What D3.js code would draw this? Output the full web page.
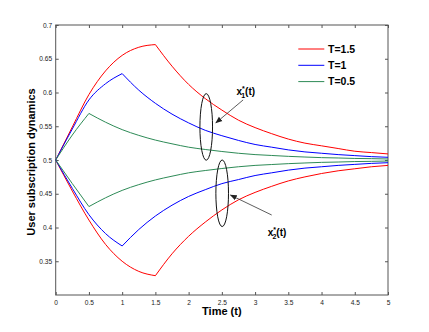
<!DOCTYPE html>
<html>
<head>
<meta charset="utf-8">
<script src="https://cdn.jsdelivr.net/npm/d3@7"></script>
<style>
  html, body { margin: 0; padding: 0; background: #fff; }
  svg { display: block; font-family: "Liberation Sans", Arial, Helvetica, sans-serif; }
</style>
</head>
<body>
<svg id="chart" width="429" height="332"></svg>
<script>
// ---------- data ----------
const times = [0, 0.25, 0.5, 0.75, 1, 1.25, 1.5, 1.75, 2, 2.25, 2.5, 2.75, 3, 3.25, 3.5, 3.75, 4, 4.25, 4.5, 4.75, 5];
const seriesNames = ["T=1.5", "T=1", "T=0.5"];
const switchTimes = [1.5, 1, 0.5];
const seriesColors = ["#ff0000", "#0000ff", "#2e8b57"];

const x1_T15 = [0.5, 0.549, 0.597, 0.632, 0.655, 0.667, 0.671, 0.639, 0.612, 0.591, 0.574, 0.559, 0.548, 0.539, 0.531, 0.525, 0.521, 0.517, 0.513, 0.511, 0.509];
const x2_T15 = [0.5, 0.454, 0.411, 0.375, 0.350, 0.335, 0.3286, 0.361, 0.387, 0.408, 0.426, 0.441, 0.452, 0.461, 0.469, 0.475, 0.480, 0.484, 0.487, 0.490, 0.492];
const x1_T1  = [0.5, 0.546, 0.589, 0.613, 0.628, 0.6035, 0.584, 0.568, 0.555, 0.544, 0.536, 0.529, 0.523, 0.519, 0.515, 0.512, 0.510, 0.508, 0.5065, 0.505, 0.504];
const x2_T1  = [0.5, 0.458, 0.419, 0.391, 0.3726, 0.397, 0.417, 0.433, 0.446, 0.456, 0.465, 0.471, 0.477, 0.481, 0.485, 0.488, 0.490, 0.492, 0.4935, 0.495, 0.496];
const x1_T05 = [0.5, 0.537, 0.569, 0.556, 0.545, 0.5365, 0.5295, 0.524, 0.519, 0.5156, 0.5126, 0.510, 0.508, 0.5067, 0.5054, 0.5044, 0.5035, 0.503, 0.5023, 0.502, 0.5015];
const x2_T05 = [0.5, 0.465, 0.431, 0.444, 0.455, 0.4635, 0.4705, 0.476, 0.481, 0.4844, 0.4874, 0.490, 0.492, 0.4933, 0.4946, 0.4956, 0.4965, 0.497, 0.4977, 0.498, 0.4985];

const xTicks = [0, 0.5, 1, 1.5, 2, 2.5, 3, 3.5, 4, 4.5, 5];
const yTicks = [0.35, 0.4, 0.45, 0.5, 0.55, 0.6, 0.65, 0.7];
const xTitle = "Time (t)";
const yTitle = "User subscription dynamics";

// annotation anchors in data units: ellipse centre/radii, arrow from/to, label
const ann1 = { cx: 2.265, cy: 0.549, rx: 0.095, ry: 0.0493, from: [2.82, 0.589], to: [2.41, 0.555], label: [2.72, 0.596], sub: "1" };
const ann2 = { cx: 2.505, cy: 0.4507, rx: 0.095, ry: 0.0493, from: [3.25, 0.4185], to: [2.63, 0.448], label: [3.19, 0.387], sub: "2" };

const series = [
  { up: x1_T15, down: x2_T15 },
  { up: x1_T1,  down: x2_T1  },
  { up: x1_T05, down: x2_T05 }
];

// ---------- layout ----------
const svg = d3.select("#chart");
const L = 55.7, R = 388, T = 25, B = 295;
const x = d3.scaleLinear().domain([0, 5]).range([L, R]);
const y = d3.scaleLinear().domain([0.3, 0.7]).range([B, T]);

svg.append("rect").attr("width", 429).attr("height", 332).attr("fill", "#fff");

const axisColor = "#555";
const tickFont = 6.6;

// axes with inward ticks
const gx = svg.append("g").attr("transform", `translate(0,${B})`)
  .call(d3.axisBottom(x).tickValues(xTicks).tickSize(-3).tickPadding(5).tickFormat(d3.format("")));
const gy = svg.append("g").attr("transform", `translate(${L},0)`)
  .call(d3.axisLeft(y).tickValues(yTicks).tickSize(-3).tickPadding(3.6).tickFormat(d => d3.format("")(+d.toFixed(2))));
const gt = svg.append("g").attr("transform", `translate(0,${T})`)
  .call(d3.axisTop(x).tickValues(xTicks).tickSize(-3).tickFormat(""));
const gr = svg.append("g").attr("transform", `translate(${R},0)`)
  .call(d3.axisRight(y).tickValues(yTicks).tickSize(-3).tickFormat(""));

[gx, gy, gt, gr].forEach(g => {
  g.select(".domain").remove();
  g.selectAll(".tick line").attr("stroke", axisColor).attr("stroke-width", 1);
  g.selectAll(".tick text").attr("fill", "#222").style("font-size", tickFont + "px")
    .style("font-family", "'Liberation Sans', Arial, sans-serif");
});

svg.append("rect").attr("x", L).attr("y", T).attr("width", R - L).attr("height", B - T)
  .attr("fill", "none").attr("stroke", axisColor).attr("stroke-width", 1);

// ---------- lines ----------
const line = d3.line().x(d => x(d[0])).y(d => y(d[1])).curve(d3.curveMonotoneX);
series.forEach((s, i) => {
  const Ts = switchTimes[i];
  ["up", "down"].forEach(k => {
    const pts = times.map((t, j) => [t, s[k][j]]);
    const seg1 = pts.filter(p => p[0] <= Ts);
    const seg2 = pts.filter(p => p[0] >= Ts);
    [seg1, seg2].forEach(seg => {
      svg.append("path").datum(seg).attr("d", line)
        .attr("fill", "none").attr("stroke", seriesColors[i]).attr("stroke-width", 1);
    });
  });
});

// ---------- annotations ----------
const defs = svg.append("defs");
defs.append("marker").attr("id", "arr").attr("viewBox", "0 0 10 10").attr("refX", 9).attr("refY", 5)
  .attr("markerWidth", 7).attr("markerHeight", 7).attr("orient", "auto-start-reverse")
  .attr("markerUnits", "userSpaceOnUse")
  .append("path").attr("d", "M0,1 L10,5 L0,9 Z").attr("fill", "#222");

const pxPerT = x(1) - x(0), pxPerV = y(0) - y(1);
[ann1, ann2].forEach(a => {
  svg.append("ellipse").attr("cx", x(a.cx)).attr("cy", y(a.cy))
    .attr("rx", a.rx * pxPerT).attr("ry", a.ry * pxPerV)
    .attr("fill", "none").attr("stroke", "#111").attr("stroke-width", 1);
  svg.append("line").attr("x1", x(a.from[0])).attr("y1", y(a.from[1]))
    .attr("x2", x(a.to[0])).attr("y2", y(a.to[1]))
    .attr("stroke", "#333").attr("stroke-width", 0.8).attr("marker-end", "url(#arr)");
  const tx = svg.append("text").attr("x", x(a.label[0])).attr("y", y(a.label[1]))
    .attr("font-size", 10).attr("font-weight", "bold").attr("fill", "#000");
  tx.append("tspan").text("x");
  tx.append("tspan").attr("font-size", 7).attr("dy", -4.5).text("*");
  tx.append("tspan").attr("font-size", 7).attr("dx", -3.6).attr("dy", 7.5).text(a.sub);
  tx.append("tspan").attr("dy", -3).text("(t)");
});

// ---------- legend ----------
const lg = svg.append("g");
seriesNames.forEach((n, i) => {
  const yy = 49 + i * 16.3;
  lg.append("line").attr("x1", 298.3).attr("x2", 324.3).attr("y1", yy).attr("y2", yy)
    .attr("stroke", seriesColors[i]).attr("stroke-width", 1);
  lg.append("text").attr("x", 328).attr("y", yy + 3.8).attr("font-size", 10.5)
    .attr("font-weight", "bold").attr("fill", "#000").text(n);
});

// ---------- titles ----------
svg.append("text").attr("x", (L + R) / 2).attr("y", 315).attr("text-anchor", "middle")
  .attr("font-size", 11).attr("font-weight", "bold").text(xTitle);
svg.append("text").attr("transform", `translate(35,${(T + B) / 2 + 2}) rotate(-90)`)
  .attr("text-anchor", "middle").attr("font-size", 11).attr("font-weight", "bold").text(yTitle);
</script>
</body>
</html>
